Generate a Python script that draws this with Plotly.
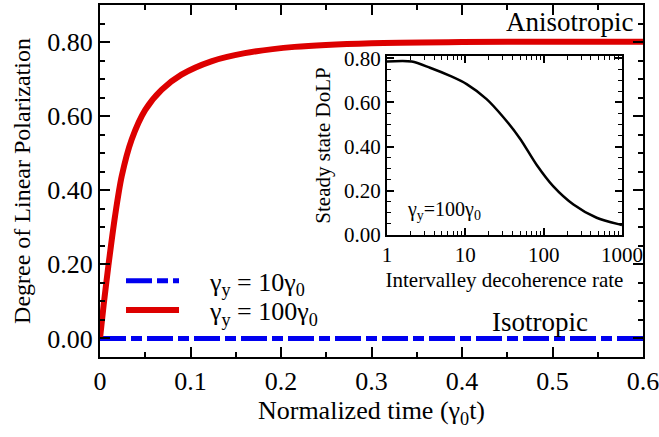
import plotly.graph_objects as go

# Main panel data
t = [0, 0.004, 0.0092, 0.0166, 0.024, 0.035, 0.05, 0.068, 0.09, 0.123, 0.16, 0.215, 0.3, 0.4, 0.5, 0.6]
dolp_100 = [0, 0.09, 0.195, 0.330, 0.438, 0.537, 0.617, 0.671, 0.712, 0.748, 0.770, 0.787, 0.797, 0.800, 0.801, 0.801]
t_iso = [0, 0.6]
dolp_10 = [0, 0]

# Inset data
rate = [1, 2.07, 3.54, 6.4, 10.4, 18.7, 30.6, 50, 81.6, 133, 240, 475, 946, 1000]
steady = [0.785, 0.785, 0.757, 0.72, 0.683, 0.615, 0.533, 0.436, 0.317, 0.22, 0.138, 0.078, 0.047, 0.045]

# Tick labels
main_yticks = [0, 0.2, 0.4, 0.6, 0.8]
main_ytext = ["0.00", "0.20", "0.40", "0.60", "0.80"]
main_xticks = [0, 0.1, 0.2, 0.3, 0.4, 0.5, 0.6]
main_xtext = ["0", "0.1", "0.2", "0.3", "0.4", "0.5", "0.6"]
inset_xticks = [1, 10, 100, 1000]
inset_xtext = ["1", "10", "100", "1000"]
inset_xminor = [m * d for d in (1, 10, 100) for m in range(2, 10)]

FONT = "Liberation Serif"

fig = go.Figure()
fig.add_trace(go.Scatter(
    x=t_iso, y=dolp_10, mode="lines", legend="legend",
    line=dict(color="#0000f0", width=5, dash="26px,5px,11px,5px"),
    name="\u2002\u2002γ<sub>y</sub> = 10γ<sub>0</sub>"))
fig.add_trace(go.Scatter(
    x=t, y=dolp_100, mode="lines", legend="legend2",
    line=dict(color="#dd0000", width=6, shape="spline", smoothing=0.8),
    name="\u2002\u2002γ<sub>y</sub> = 100γ<sub>0</sub>"))
fig.add_trace(go.Scatter(
    x=rate, y=steady, mode="lines", xaxis="x2", yaxis="y2",
    line=dict(color="black", width=2.5, shape="spline", smoothing=0.8),
    showlegend=False))

axis_common = dict(showline=True, linecolor="black", linewidth=2, mirror="ticks",
                   ticks="inside", tickcolor="black", showgrid=False, zeroline=False,
                   automargin=False, ticklabeloverflow="allow")

legend_common = dict(xanchor="left", yanchor="middle", bgcolor="rgba(0,0,0,0)",
                     font=dict(size=26), itemwidth=53, borderwidth=0)

fig.update_layout(
    width=659, height=437,
    margin=dict(l=100, r=16, t=5, b=80),
    paper_bgcolor="white", plot_bgcolor="white",
    font=dict(family=FONT, color="black", size=24),
    xaxis=dict(**axis_common, range=[0, 0.6], tickvals=main_xticks, ticktext=main_xtext,
               ticklen=10, tickwidth=1.5,
               minor=dict(ticks="inside", dtick=0.05, ticklen=5, tickcolor="black", tickwidth=1.5),
               tickfont=dict(size=26),
               title=dict(text="Normalized time (γ<sub>0</sub>t)", font=dict(size=26), standoff=6)),
    yaxis=dict(**axis_common, range=[-0.05, 0.9], tickvals=main_yticks, ticktext=main_ytext,
               ticklen=10, tickwidth=1.5,
               minor=dict(ticks="inside", dtick=0.05, tick0=0, ticklen=5, tickcolor="black", tickwidth=1.5),
               tickfont=dict(size=26),
               title=dict(text="Degree of Linear Polarization", font=dict(size=24), standoff=10)),
    xaxis2=dict(**axis_common, type="log", range=[0, 3], tickvals=inset_xticks, ticktext=inset_xtext,
                domain=[0.5285, 0.9613], anchor="y2", ticklen=7, tickwidth=1.5,
                minor=dict(ticks="inside", tickmode="array", tickvals=inset_xminor,
                           ticklen=4, tickcolor="black", tickwidth=1),
                tickfont=dict(size=21),
                title=dict(text="Intervalley decoherence rate", font=dict(size=21), standoff=6)),
    yaxis2=dict(**axis_common, range=[0, 0.81], tickvals=main_yticks, ticktext=main_ytext,
                domain=[0.3466, 0.855], anchor="x2", ticklen=7, tickwidth=1.5,
                minor=dict(ticks="inside", dtick=0.05, tick0=0, ticklen=4, tickcolor="black", tickwidth=1),
                tickfont=dict(size=21),
                title=dict(text="Steady state DoLP", font=dict(size=21), standoff=8)),
    legend=dict(**legend_common, x=0.0387, y=0.216),
    legend2=dict(**legend_common, x=0.0387, y=0.1335),
    annotations=[
        dict(x=0.592, y=0.854, xref="x", yref="y", text="Anisotropic", showarrow=False,
             xanchor="right", yanchor="middle", font=dict(size=27)),
        dict(x=0.486, y=0.045, xref="x", yref="y", text="Isotropic", showarrow=False,
             xanchor="center", yanchor="middle", font=dict(size=27)),
        dict(x=0.23, y=0.113, xref="x2", yref="y2", text="γ<sub>y</sub>=100γ<sub>0</sub>",
             showarrow=False, xanchor="left", yanchor="middle", font=dict(size=20)),
    ],
)

fig.write_html("out.html", config={"displayModeBar": False},
               post_script="document.body.style.margin='0';")
